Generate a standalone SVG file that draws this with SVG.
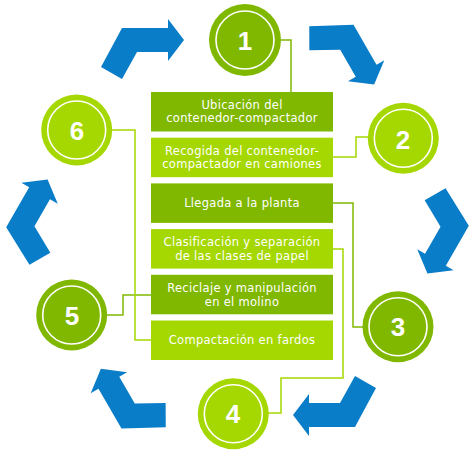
<svg xmlns="http://www.w3.org/2000/svg" width="475" height="455" viewBox="0 0 475 455">
<style>
.arrow{fill:#0a7dc9}
.dk{fill:#80b800}
.lt{fill:#a5d700}
.ring{fill:none;stroke:#fff;stroke-width:1.6}
.num{font-family:"Liberation Sans",Arial,sans-serif;font-weight:bold;font-size:26px;fill:#fff;text-anchor:middle}
.lbl{font-family:"DejaVu Sans",Verdana,sans-serif;font-size:11.5px;letter-spacing:0.3px;fill:#fff;text-anchor:middle}
.cd{fill:none;stroke:#80b800;stroke-width:1.5}
.cl{fill:none;stroke:#a5d700;stroke-width:1.5}
</style>
<defs>
<polygon id="arr" class="arrow" points="-21,-20 25,-20 25,-29 41,-8 25,13 25,4 -6,4 -21,31 -42,19"/>
</defs>
<rect width="475" height="455" fill="#fff"/>
<g id="cycle-arrows">
<use href="#arr" transform="translate(143,48)"/>
<use href="#arr" transform="translate(346.7,53) rotate(60)"/>
<use href="#arr" transform="translate(441,234) rotate(120)"/>
<use href="#arr" transform="translate(334,407) rotate(180)"/>
<use href="#arr" transform="translate(128.3,400.3) rotate(240)"/>
<use href="#arr" transform="translate(34,219) rotate(300)"/>
</g>
<g id="connectors">
<polyline class="cd" points="281,40 291,40 291,92"/>
<polyline class="cl" points="368,137 356,137 356,157 332,157"/>
<polyline class="cd" points="332,203 353,203 353,327 363,327"/>
<polyline class="cl" points="332,249 343,249 343,378 281,378 281,413 268,413"/>
<polyline class="cd" points="107,315 123,315 123,295 151,295"/>
<polyline class="cl" points="112,130 135,130 135,340 151,340"/>
</g>
<g id="box1"><rect class="dk" x="151" y="92" width="182" height="39.5"/><text class="lbl" x="242" y="109">Ubicación del<tspan x="242" dy="13.4">contenedor-compactador</tspan></text></g>
<g id="box2"><rect class="lt" x="151" y="137.7" width="182" height="39.5"/><text class="lbl" x="242" y="154.6">Recogida del contenedor-<tspan x="242" dy="13.4">compactador en camiones</tspan></text></g>
<g id="box3"><rect class="dk" x="151" y="183.4" width="182" height="39.5"/><text class="lbl" x="242" y="207.3">Llegada a la planta</text></g>
<g id="box4"><rect class="lt" x="151" y="229.1" width="182" height="39.5"/><text class="lbl" x="242" y="246.4">Clasificación y separación<tspan x="242" dy="13.4">de las clases de papel</tspan></text></g>
<g id="box5"><rect class="dk" x="151" y="274.8" width="182" height="39.5"/><text class="lbl" x="242" y="292.4">Reciclaje y manipulación<tspan x="242" dy="13.4">en el molino</tspan></text></g>
<g id="box6"><rect class="lt" x="151" y="320.5" width="182" height="39.5"/><text class="lbl" x="242" y="344">Compactación en fardos</text></g>
<g id="step1"><circle class="dk" cx="245" cy="40" r="36"/><circle class="ring" cx="245" cy="40" r="29"/><text class="num" x="245" y="50">1</text></g>
<g id="step2"><circle class="lt" cx="403.3" cy="138.3" r="35.5"/><circle class="ring" cx="403.3" cy="138.3" r="29"/><text class="num" x="403" y="148.5">2</text></g>
<g id="step3"><circle class="dk" cx="398" cy="326.7" r="35.5"/><circle class="ring" cx="398" cy="326.7" r="29"/><text class="num" x="398" y="336">3</text></g>
<g id="step4"><circle class="lt" cx="233.3" cy="413.8" r="35.5"/><circle class="ring" cx="233.3" cy="413.8" r="29"/><text class="num" x="233" y="423">4</text></g>
<g id="step5"><circle class="dk" cx="71.7" cy="315" r="35.5"/><circle class="ring" cx="71.7" cy="315" r="29"/><text class="num" x="72" y="324.5">5</text></g>
<g id="step6"><circle class="lt" cx="76.7" cy="130" r="35.5"/><circle class="ring" cx="76.7" cy="130" r="29"/><text class="num" x="77" y="140">6</text></g>
</svg>
